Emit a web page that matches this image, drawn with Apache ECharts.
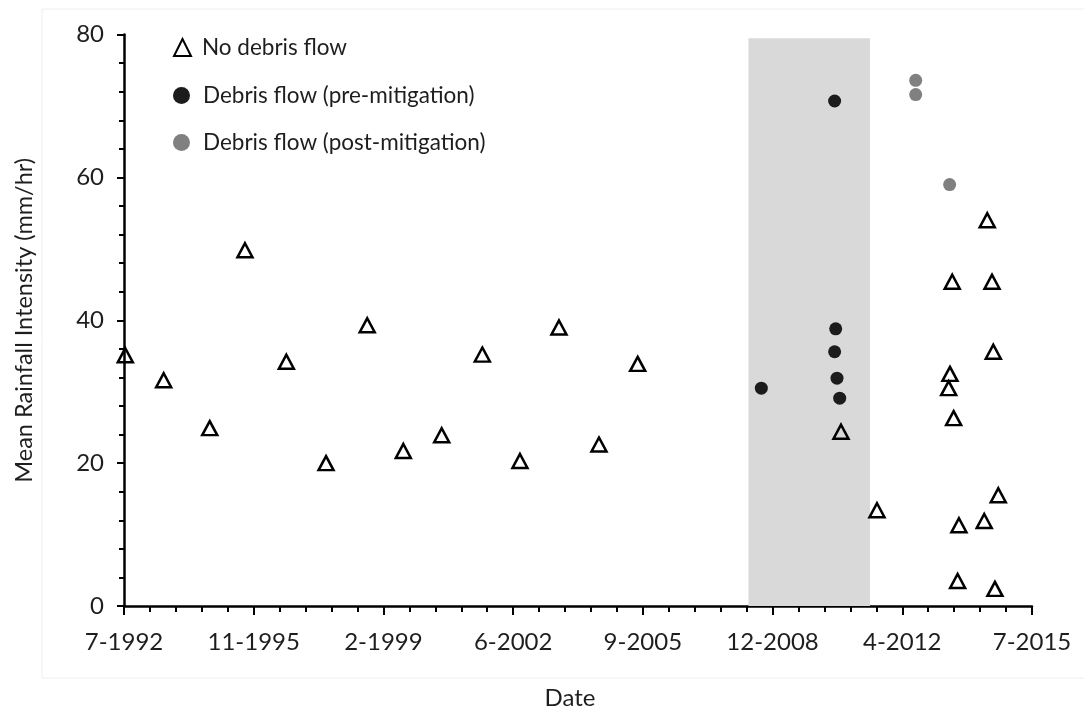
<!DOCTYPE html>
<html>
<head>
<meta charset="utf-8">
<script src="https://cdn.jsdelivr.net/npm/echarts@6/dist/echarts.min.js"></script>
<style>
  html, body { margin: 0; padding: 0; background: #ffffff; }
  #chart { width: 1084px; height: 710px; }
</style>
</head>
<body>
<div id="chart"></div>
<script>
// ---------- data ----------
const baseDate = '1992-07-25';           // axis origin (day 0)
const xTickLabels = ['7-1992', '11-1995', '2-1999', '6-2002', '9-2005', '12-2008', '4-2012', '7-2015'];
const xTickDays = 1200;                  // spacing of the date ticks, days

const noFlowDates = ['1992-08-06', '1993-07-27', '1994-09-26', '1995-08-18', '1996-09-04', '1997-09-06',
  '1998-09-22', '1999-08-22', '2000-08-11', '2001-08-22', '2002-08-05', '2003-08-01', '2004-08-05',
  '2005-07-29', '2010-09-22', '2011-08-21', '2013-06-14', '2013-06-26', '2013-07-17', '2013-07-30',
  '2013-09-05', '2013-09-17', '2014-05-09', '2014-06-06', '2014-07-20', '2014-08-01', '2014-08-16',
  '2014-09-16'];
const noFlowValues = [35.1, 31.6, 24.9, 49.8, 34.2, 20.0, 39.3, 21.7, 23.9, 35.2, 20.3, 39.0, 22.6,
  33.9, 24.4, 13.4, 30.5, 32.5, 45.4, 26.3, 3.5, 11.3, 11.9, 54.0, 45.4, 35.6, 2.4, 15.5];

const preDates = ['2008-09-15', '2010-07-25', '2010-08-04', '2010-07-25', '2010-08-16', '2010-09-10'];
const preValues = [30.5, 70.7, 38.8, 35.6, 31.9, 29.1];

const postDates = ['2012-08-13', '2012-08-13', '2013-06-23'];
const postValues = [73.6, 71.6, 59.0];

const mitigationPeriod = ['2008-05-19', '2011-06-17'];
const mitigationTop = 79.5;

const seriesNames = ['No debris flow', 'Debris flow (pre-mitigation)', 'Debris flow (post-mitigation)'];

// ---------- helpers ----------
function toUTC(s) { const p = s.split('-').map(Number); return Date.UTC(p[0], p[1] - 1, p[2]); }
const BASE = toUTC(baseDate);
function dayOf(s) { return Math.round((toUTC(s) - BASE) / 86400000); }
function pairs(dates, vals) { return dates.map((d, i) => [dayOf(d), vals[i]]); }

const FONT = 'Lato';
const TXT = '#1e1e1e';

const chart = echarts.init(document.getElementById('chart'), null, { renderer: 'canvas' });

function legendAt(name, top, pad) {
  return {
    data: [name], left: 168, top: top, orient: 'vertical',
    itemWidth: 17, itemHeight: 17, selectedMode: false,
    textStyle: { fontFamily: FONT, fontSize: 22.5, color: TXT, lineHeight: 22, padding: [0, 0, 0, pad] }
  };
}

chart.setOption({
  animation: false,
  backgroundColor: '#ffffff',
  graphic: [{
    type: 'rect', silent: true, z: -10,
    shape: { x: 42, y: 9, width: 1100, height: 669 },
    style: { fill: 'none', stroke: '#eeeeee', lineWidth: 1 }
  }],
  grid: { left: 124, right: 52, top: 34.6, bottom: 104, containLabel: false, outerBoundsMode: 'none' },
  legend: [
    legendAt(seriesNames[0], 31, 6),
    legendAt(seriesNames[1], 79, 8),
    legendAt(seriesNames[2], 126, 8)
  ],
  xAxis: {
    type: 'value', min: 0, max: 8400, interval: xTickDays,
    name: 'Date', nameLocation: 'middle', nameGap: 80,
    nameTextStyle: { fontFamily: FONT, fontSize: 24, color: TXT, padding: [0, 16, 0, 0] },
    axisLine: { lineStyle: { color: '#000', width: 2.5 } },
    axisTick: { show: true, length: 9, lineStyle: { color: '#000', width: 2 } },
    minorTick: { show: true, splitNumber: 5, length: 6, lineStyle: { color: '#000', width: 2 } },
    splitLine: { show: false },
    axisLabel: {
      fontFamily: FONT, fontSize: 24, color: TXT, margin: 24,
      formatter: v => xTickLabels[Math.round(v / xTickDays)] || ''
    }
  },
  yAxis: {
    type: 'value', min: 0, max: 80, interval: 20,
    name: 'Mean Rainfall Intensity (mm/hr)', nameLocation: 'middle', nameGap: 88,
    nameTextStyle: { fontFamily: FONT, fontSize: 23.5, color: TXT },
    axisLine: { show: true, lineStyle: { color: '#000', width: 2.5 } },
    axisTick: { show: true, length: 7, lineStyle: { color: '#000', width: 2 } },
    minorTick: { show: true, splitNumber: 5, length: 5, lineStyle: { color: '#000', width: 2 } },
    splitLine: { show: false },
    axisLabel: { fontFamily: FONT, fontSize: 24, color: TXT, margin: 20 }
  },
  series: [
    {
      name: seriesNames[0], type: 'scatter',
      data: pairs(noFlowDates, noFlowValues),
      symbol: 'triangle', symbolSize: [15, 14], z: 5,
      itemStyle: { color: 'rgba(0,0,0,0)', borderColor: '#000', borderWidth: 2.5, opacity: 1 },
      markArea: {
        silent: true, z: 1,
        itemStyle: { color: '#d9d9d9' },
        data: [[{ xAxis: dayOf(mitigationPeriod[0]), yAxis: 0 }, { xAxis: dayOf(mitigationPeriod[1]), yAxis: mitigationTop }]]
      }
    },
    {
      name: seriesNames[1], type: 'scatter',
      data: pairs(preDates, preValues),
      symbol: 'circle', symbolSize: 13, z: 4,
      itemStyle: { color: '#1c1c1c', opacity: 1 }
    },
    {
      name: seriesNames[2], type: 'scatter',
      data: pairs(postDates, postValues),
      symbol: 'circle', symbolSize: 13, z: 4,
      itemStyle: { color: '#808080', opacity: 1 }
    }
  ]
});
</script>
</body>
</html>
